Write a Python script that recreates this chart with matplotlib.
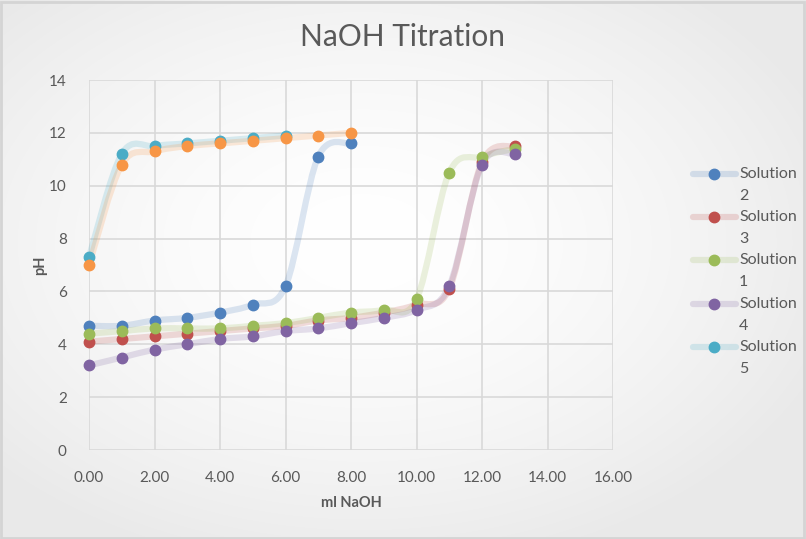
import numpy as np
import matplotlib
matplotlib.use('Agg')
import matplotlib.pyplot as plt
from matplotlib.path import Path
from matplotlib.patches import PathPatch, Rectangle
from matplotlib.lines import Line2D

# ---------------- data ----------------
x_long = [0, 1, 2, 3, 4, 5, 6, 7, 8, 9, 10, 11, 12, 13]
x_sol2 = [0, 1, 2, 3, 4, 5, 6, 7, 8]
y_sol2 = [4.7, 4.7, 4.9, 5.0, 5.2, 5.5, 6.2, 11.1, 11.6]
y_sol3 = [4.1, 4.2, 4.3, 4.4, 4.5, 4.6, 4.7, 4.9, 5.0, 5.2, 5.5, 6.1, 10.9, 11.5]
y_sol1 = [4.4, 4.5, 4.6, 4.6, 4.6, 4.7, 4.8, 5.0, 5.2, 5.3, 5.7, 10.5, 11.1, 11.4]
y_sol4 = [3.2, 3.5, 3.8, 4.0, 4.2, 4.3, 4.5, 4.6, 4.8, 5.0, 5.3, 6.2, 10.8, 11.2]
x_sol5 = [0, 1, 2, 3, 4, 5, 6]
y_sol5 = [7.3, 11.2, 11.5, 11.6, 11.7, 11.8, 11.9]
x_sol6 = [0, 1, 2, 3, 4, 5, 6, 7, 8]
y_sol6 = [7.0, 10.8, 11.3, 11.5, 11.6, 11.7, 11.8, 11.9, 12.0]

legend_labels = ["Solution\n2", "Solution\n3", "Solution\n1", "Solution\n4", "Solution\n5"]
x_ticks = [0, 2, 4, 6, 8, 10, 12, 14, 16]
y_ticks = [0, 2, 4, 6, 8, 10, 12, 14]
title = "NaOH Titration"
x_label = "ml NaOH"
y_label = "pH"

series = [
    (x_sol2, y_sol2, '#4F81BD'),
    (x_long, y_sol3, '#C0504D'),
    (x_long, y_sol1, '#9BBB59'),
    (x_long, y_sol4, '#8064A2'),
    (x_sol5, y_sol5, '#4BACC6'),
    (x_sol6, y_sol6, '#F79646'),
]

FONT = 'Lato'
TXT = '#595959'
W, H = 806, 539
LINE_ALPHA = 0.2

fig = plt.figure(figsize=(W / 100, H / 100), dpi=100)

# background gradient
bg = fig.add_axes([0, 0, 1, 1], zorder=-10)
yy, xx = np.mgrid[0:H, 0:W]
d = np.sqrt(((xx - W * 0.45) / (W * 0.62)) ** 2 + ((yy - H * 0.45) / (H * 0.62)) ** 2)
d = np.clip(d, 0, 1)
v = 1.0 - 0.085 * d ** 1.6
img = np.dstack([v, v, v])
bg.imshow(img, aspect='auto', extent=[0, 1, 0, 1], origin='upper')
bg.set_xlim(0, 1); bg.set_ylim(0, 1)
bg.axis('off')
fig.add_artist(Rectangle((0.001, 0.002), 0.997, 0.995, transform=fig.transFigure,
                         fill=False, edgecolor='#d4d4d4', lw=2))

ax = fig.add_axes([89 / W, 1 - 450 / H, (613 - 89) / W, (450 - 80) / H])
ax.set_facecolor('none')
ax.set_xlim(0, 16)
ax.set_ylim(0, 14)
for s in ax.spines.values():
    s.set_visible(False)
ax.set_xticks(x_ticks)
ax.set_xticklabels([f"{t:.2f}" for t in x_ticks])
ax.set_yticks(y_ticks)
ax.set_yticklabels([str(t) for t in y_ticks])
ax.tick_params(length=0, labelcolor=TXT, labelsize=11)
ax.tick_params(axis='x', pad=15)
ax.tick_params(axis='y', pad=16)
for lab in ax.get_xticklabels() + ax.get_yticklabels():
    lab.set_fontfamily(FONT)
ax.grid(True, color='#d9d9d9', lw=1.2)
ax.set_axisbelow(True)


def smooth_path(xs, ys):
    P = np.column_stack([xs, ys]).astype(float)
    n = len(P)
    verts = [P[0]]
    codes = [Path.MOVETO]
    for i in range(n - 1):
        p0 = P[i - 1] if i > 0 else P[i]
        p3 = P[i + 2] if i + 2 < n else P[i + 1]
        c1 = P[i] + (P[i + 1] - p0) / 6.0
        c2 = P[i + 1] - (p3 - P[i]) / 6.0
        verts += [c1, c2, P[i + 1]]
        codes += [Path.CURVE4] * 3
    return Path(verts, codes)


for xs, ys, c in series:
    patch = PathPatch(smooth_path(xs, ys), facecolor='none', edgecolor=c, lw=4.5,
                      alpha=LINE_ALPHA, capstyle='round', joinstyle='round', zorder=2,
                      transform=ax.transData)
    patch.set_clip_on(False)
    ax.add_patch(patch)
for xs, ys, c in series:
    ax.plot(xs, ys, linestyle='none', marker='o', ms=7.5, color=c, mec=c,
            zorder=3, clip_on=False)

fig.text(0.5, 1 - 37 / H, title, ha='center', va='center', fontsize=21.5,
         color=TXT, fontfamily=FONT)
fig.text(351 / W, 1 - 503 / H, x_label, ha='center', va='center', fontsize=10.5,
         fontweight='bold', color=TXT, fontfamily=FONT)
fig.text(40 / W, 1 - 265 / H, y_label, ha='center', va='center', fontsize=10.5,
         fontweight='bold', color=TXT, fontfamily=FONT, rotation=90)

# legend (manual)
for i, (lab, (xs, ys, c)) in enumerate(zip(legend_labels, series[:5])):
    yc = 174 + i * 43.2
    yf = 1 - yc / H
    fig.add_artist(Line2D([693 / W, 736 / W], [yf, yf], transform=fig.transFigure,
                          color=c, alpha=LINE_ALPHA, lw=4.5, solid_capstyle='round'))
    fig.add_artist(Line2D([714 / W], [yf], transform=fig.transFigure, marker='o',
                          ms=7.5, color=c, linestyle='none'))
    first, second = lab.split('\n')
    fig.text(739 / W, yf, first, ha='left', va='center', fontsize=11.5,
             color=TXT, fontfamily=FONT)
    fig.text(739 / W, 1 - (yc + 22) / H, second, ha='left', va='center', fontsize=11.5,
             color=TXT, fontfamily=FONT)

fig.savefig('out.png', dpi=100)
